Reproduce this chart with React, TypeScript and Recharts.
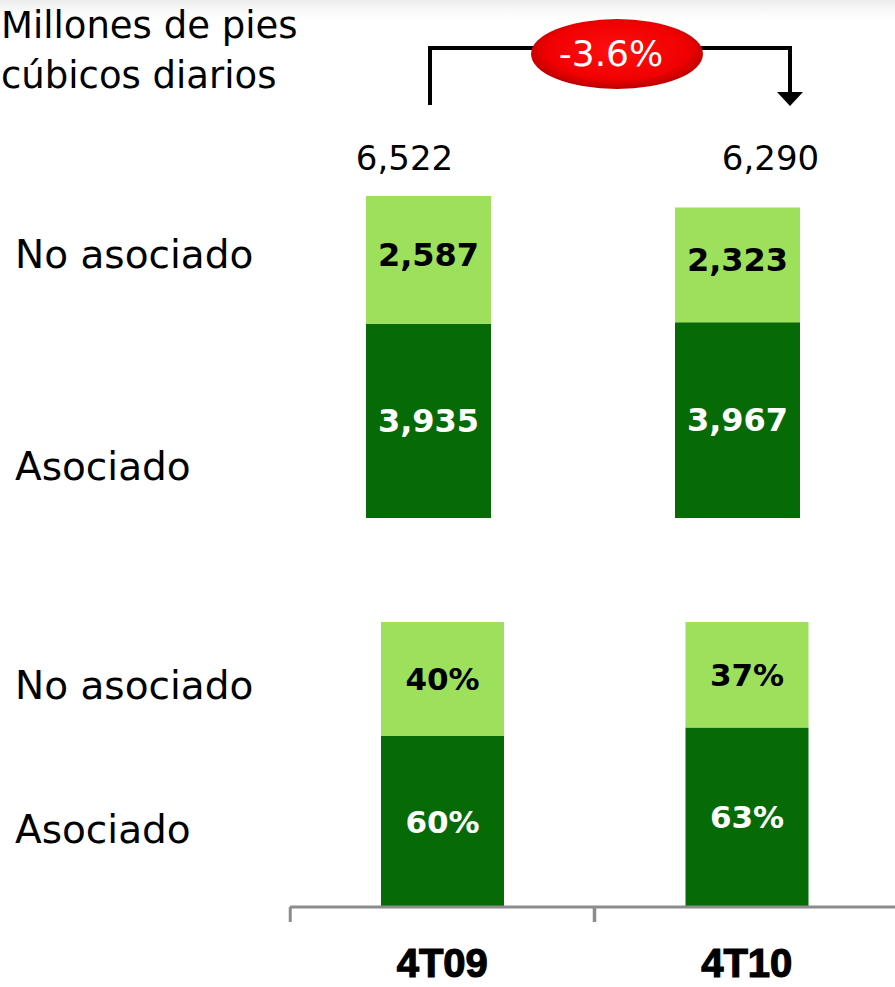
import React from 'react';
import { BarChart, Bar, XAxis, YAxis, LabelList } from 'recharts';

const categories = ['4T09', '4T10'];
const asociadoVol = [3935, 3967];
const noAsociadoVol = [2587, 2323];
const asociadoPct = [60, 63];
const noAsociadoPct = [40, 37];
const changeLabel = '-3.6%';

const LIGHT = '#9DE05B';
const DARK = '#066B06';
const SANS = '"DejaVu Sans", Verdana, sans-serif';

const volData = categories.map((c, i) => ({
  cat: c,
  asociado: asociadoVol[i],
  noAsociado: noAsociadoVol[i],
  total: asociadoVol[i] + noAsociadoVol[i],
}));
const pctData = categories.map((c, i) => ({
  cat: c,
  asociado: asociadoPct[i],
  noAsociado: noAsociadoPct[i],
}));

const fmt = (v: any) => Number(v).toLocaleString('en-US');
const pct = (v: any) => `${v}%`;

const totalShift = [-24, 33];
const TotalLabel = (props: any) => {
  const { x, width, value, index } = props;
  return (
    <text
      x={Number(x) + Number(width) / 2 + totalShift[index]}
      y={170}
      textAnchor="middle"
      fontFamily={SANS}
      fontSize={34}
      fill="#000"
    >
      {fmt(value)}
    </text>
  );
};

const CatTick = (props: any) => {
  const { x, y, payload } = props;
  const half = 152;
  return (
    <g>
      <line x1={x - half} x2={x - half} y1={y} y2={y + 15} stroke="#8c8c8c" strokeWidth={3} />
      <line x1={x + half} x2={x + half} y1={y} y2={y + 15} stroke="#8c8c8c" strokeWidth={3} />
      <text
        x={x}
        y={y + 70}
        textAnchor="middle"
        fontFamily='"Liberation Sans", Arial, sans-serif'
        fontWeight="bold"
        fontSize={40}
        fill="#000"
        stroke="#000"
        strokeWidth={1.2}
      >
        {payload.value}
      </text>
    </g>
  );
};

export default function App() {
  return (
    <div
      style={{
        position: 'absolute',
        left: 0,
        top: 0,
        width: 895,
        height: 987,
        overflow: 'hidden',
        background: '#fff',
      }}
    >
      <div style={{ position: 'absolute', left: 0, top: 0 }}>
        <BarChart
          width={895}
          height={540}
          data={volData}
          margin={{ top: 196, right: 3, bottom: 22, left: 274 }}
        >
          <XAxis dataKey="cat" hide />
          <YAxis hide domain={[0, 'dataMax']} />
          <Bar dataKey="asociado" stackId="a" fill={DARK} barSize={125} isAnimationActive={false}>
            <LabelList
              dataKey="asociado"
              position="center"
              formatter={fmt}
              fill="#fff"
              fontFamily={SANS}
              fontWeight="bold"
              fontSize={32}
            />
          </Bar>
          <Bar dataKey="noAsociado" stackId="a" fill={LIGHT} barSize={125} isAnimationActive={false}>
            <LabelList
              dataKey="noAsociado"
              position="center"
              formatter={fmt}
              fill="#000"
              fontFamily={SANS}
              fontWeight="bold"
              fontSize={32}
              dy={-5}
            />
            <LabelList dataKey="total" content={TotalLabel} />
          </Bar>
        </BarChart>
      </div>

      <div style={{ position: 'absolute', left: 0, top: 560 }}>
        <BarChart
          width={899}
          height={427}
          data={pctData}
          margin={{ top: 62, right: 0, bottom: 0, left: 290 }}
        >
          <XAxis
            dataKey="cat"
            height={80}
            axisLine={{ stroke: '#8c8c8c', strokeWidth: 3 }}
            tickLine={false}
            tickSize={0}
            tickMargin={0}
            tick={<CatTick />}
            interval={0}
          />
          <YAxis hide domain={[0, 100]} />
          <Bar dataKey="asociado" stackId="p" fill={DARK} barSize={123} isAnimationActive={false}>
            <LabelList
              dataKey="asociado"
              position="center"
              formatter={pct}
              fill="#fff"
              fontFamily={SANS}
              fontWeight="bold"
              fontSize={31}
            />
          </Bar>
          <Bar dataKey="noAsociado" stackId="p" fill={LIGHT} barSize={123} isAnimationActive={false}>
            <LabelList
              dataKey="noAsociado"
              position="center"
              formatter={pct}
              fill="#000"
              fontFamily={SANS}
              fontWeight="bold"
              fontSize={31}
            />
          </Bar>
        </BarChart>
      </div>

      <svg
        width={895}
        height={987}
        style={{ position: 'absolute', left: 0, top: 0, pointerEvents: 'none' }}
      >
        <defs>
          <linearGradient id="topFade" x1="0" y1="0" x2="0" y2="1">
            <stop offset="0" stopColor="#ececec" />
            <stop offset="1" stopColor="#ffffff" stopOpacity={0} />
          </linearGradient>
          <radialGradient id="redBall" cx="0.5" cy="0.45" r="0.55">
            <stop offset="0" stopColor="#ff1010" />
            <stop offset="0.75" stopColor="#f00000" />
            <stop offset="1" stopColor="#b80000" />
          </radialGradient>
        </defs>
        <rect x={0} y={0} width={895} height={26} fill="url(#topFade)" />
        <g fontFamily={SANS} fill="#000">
          <text x={1} y={38} fontSize={37}>Millones de pies</text>
          <text x={1} y={88} fontSize={37}>cúbicos diarios</text>
          <text x={15} y={268} fontSize={39}>No asociado</text>
          <text x={15} y={480} fontSize={39}>Asociado</text>
          <text x={15} y={699} fontSize={39}>No asociado</text>
          <text x={15} y={843} fontSize={39}>Asociado</text>
        </g>
        <polyline
          points="430,105 430,48 790,48 790,93"
          fill="none"
          stroke="#000"
          strokeWidth={4}
        />
        <polygon points="777,92 803,92 790,106" fill="#000" />
        <ellipse cx={617} cy={54} rx={86} ry={35} fill="url(#redBall)" />
        <text
          x={611}
          y={66}
          textAnchor="middle"
          fontFamily={SANS}
          fontSize={36}
          fill="#fff"
        >
          {changeLabel}
        </text>
      </svg>
    </div>
  );
}
